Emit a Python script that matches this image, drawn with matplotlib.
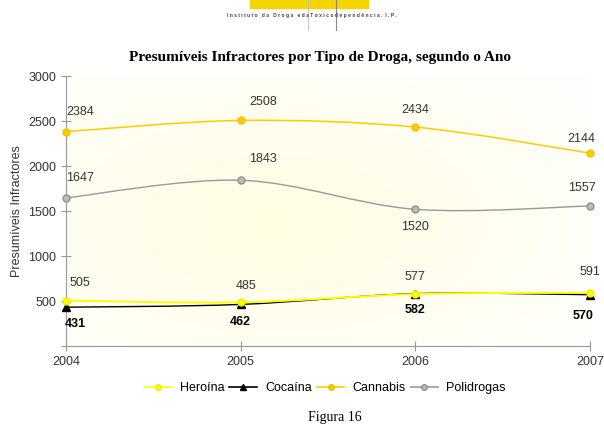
"""
Presumíveis Infractores por Tipo de Droga - recreated chart
"""

import numpy as np
import matplotlib
matplotlib.use('Agg')
import matplotlib.pyplot as plt
from matplotlib.path import Path
from matplotlib.patches import PathPatch, Rectangle
from matplotlib.lines import Line2D

# Data
years = [2004, 2005, 2006, 2007]
heroina = [505, 485, 577, 591]
cocaina = [431, 462, 582, 570]
cannabis = [2384, 2508, 2434, 2144]
polidrogas = [1647, 1843, 1520, 1557]

series_names = ['Heroína', 'Cocaína', 'Cannabis', 'Polidrogas']
y_ticks = [0, 500, 1000, 1500, 2000, 2500, 3000]
y_tick_labels = ['', '500', '1000', '1500', '2000', '2500', '3000']


def smooth_path(xs, ys):
    """Bezier path through the points (like a spreadsheet 'smoothed line')"""
    xs = np.asarray(xs, float)
    ys = np.asarray(ys, float)
    verts = [(xs[0], ys[0])]
    codes = [Path.MOVETO]
    n = len(xs)
    for i in range(n - 1):
        x0, y0 = (xs[i - 1], ys[i - 1]) if i > 0 else (xs[i], ys[i])
        x1, y1 = xs[i], ys[i]
        x2, y2 = xs[i + 1], ys[i + 1]
        x3, y3 = (xs[i + 2], ys[i + 2]) if i + 2 < n else (x2, y2)
        c1 = (x1 + (x2 - x0) / 6.0, y1 + (y2 - y0) / 6.0)
        c2 = (x2 - (x3 - x1) / 6.0, y2 - (y3 - y1) / 6.0)
        verts += [c1, c2, (x2, y2)]
        codes += [Path.CURVE4] * 3
    return Path(verts, codes)


plt.rcParams['font.family'] = ['Liberation Sans', 'DejaVu Sans']

fig = plt.figure(figsize=(6.04, 4.33), dpi=100)
ax = fig.add_axes([0.109, 0.201, 0.868, 0.623])

# pale yellow glow behind the plot area
gx, gy = np.meshgrid(np.linspace(-1, 1, 200), np.linspace(-1, 1, 200))
glow = np.clip(1 - np.sqrt((gx + 0.2) ** 2 + (gy + 0.1) ** 2) / 1.7, 0, 1)
ax.imshow(glow, extent=[2004, 2007, 0, 3000], aspect='auto', origin='lower',
          cmap=matplotlib.colors.LinearSegmentedColormap.from_list(
              'glow', ['#ffffff', '#fffde2']), zorder=0)

styles = {
    'Heroína': dict(color='#ffff00', marker='o', mfc='#ffff00', mec='#eeee00', ms=5, lw=1.4),
    'Cocaína': dict(color='#000000', marker='^', mfc='#000000', mec='#000000', ms=6, lw=1.0),
    'Cannabis': dict(color='#ffcc00', marker='o', mfc='#ffcc00', mec='#f5c000', ms=5, lw=1.1),
    'Polidrogas': dict(color='#999999', marker='o', mfc='#bbbbbb', mec='#909090', ms=5, lw=1.0),
}
data = {'Heroína': heroina, 'Cocaína': cocaina,
        'Cannabis': cannabis, 'Polidrogas': polidrogas}

for name in ['Polidrogas', 'Cannabis', 'Cocaína', 'Heroína']:
    st = styles[name]
    ax.add_patch(PathPatch(smooth_path(years, data[name]), fill=False,
                           edgecolor=st['color'], lw=st['lw'], zorder=2))
    ax.plot(years, data[name], linestyle='none', marker=st['marker'],
            markersize=st['ms'], markerfacecolor=st['mfc'],
            markeredgecolor=st['mec'], zorder=3, clip_on=False)

# data labels (offsets in points)
label_offsets = {
    'Cannabis': [(10, 14), (16, 13), (0, 12), (-6, 10)],
    'Polidrogas': [(10, 14), (16, 15), (0, -13), (-6, 13)],
    'Heroína': [(10, 13), (4, 12), (0, 12), (0, 15)],
    'Cocaína': [(7, -12), (0, -13), (0, -12), (-5, -15)],
}
for name, offs in label_offsets.items():
    for x, v, (dx, dy) in zip(years, data[name], offs):
        bold = name == 'Cocaína'
        ax.annotate(str(v), (x, v), xytext=(dx, dy), textcoords='offset points',
                    ha='center', va='center', fontsize=9,
                    color='#000000' if bold else '#333333',
                    fontweight='bold' if bold else 'normal', zorder=4)

ax.set_xlim(2004, 2007)
ax.set_ylim(0, 3000)
ax.set_xticks(years)
ax.set_xticklabels([str(y) for y in years])
ax.set_yticks(y_ticks)
ax.set_yticklabels(y_tick_labels)
ax.tick_params(axis='both', direction='inout', length=7, width=0.8,
               colors='#999999', labelcolor='#333333', labelsize=9)
ax.tick_params(axis='x', pad=4)
for side in ['top', 'right']:
    ax.spines[side].set_visible(False)
for side in ['left', 'bottom']:
    ax.spines[side].set_color('#999999')
    ax.spines[side].set_linewidth(0.8)
ax.set_ylabel('Presumíveis Infractores', fontsize=9, color='#333333', labelpad=4)

fig.text(0.53, 0.868, 'Presumíveis Infractores por Tipo de Droga, segundo o Ano',
         ha='center', va='center', fontsize=11, fontweight='bold',
         family='Liberation Serif')

# legend
handles = [Line2D([], [], color=styles[n]['color'], marker=styles[n]['marker'],
                  markerfacecolor=styles[n]['mfc'], markeredgecolor=styles[n]['mec'],
                  markersize=4, lw=1.2) for n in series_names]
fig.legend(handles, series_names, loc='center', bbox_to_anchor=(0.538, 0.104),
           ncol=4, frameon=False, fontsize=9, handlelength=2.2,
           columnspacing=0.4, handletextpad=0.65)

# header logo strip
fig.patches.append(Rectangle((250 / 604, 1 - 8 / 433), 118 / 604, 8 / 433,
                             transform=fig.transFigure, color='#f5d500', zorder=0))
fig.add_artist(Line2D([308 / 604, 308 / 604], [1, 1 - 30 / 433],
                      transform=fig.transFigure, color='#bbbbbb', lw=0.6))
fig.add_artist(Line2D([336 / 604, 336 / 604], [1, 1 - 30 / 433],
                      transform=fig.transFigure, color='#888888', lw=0.8))
fig.text(312 / 604, 1 - 15 / 433,
         'I n s t i t u t o   d a   D r o g a   e d a T o x i c o d e p e n d ê n c i a .  I . P .',
         ha='center', va='center', fontsize=3.6, fontweight='bold', color='#444444')

fig.text(335 / 604, 1 - 424 / 433, 'Figura 16', ha='center', va='bottom',
         fontsize=10, family='Liberation Serif')

fig.savefig('out.png', dpi=100)
